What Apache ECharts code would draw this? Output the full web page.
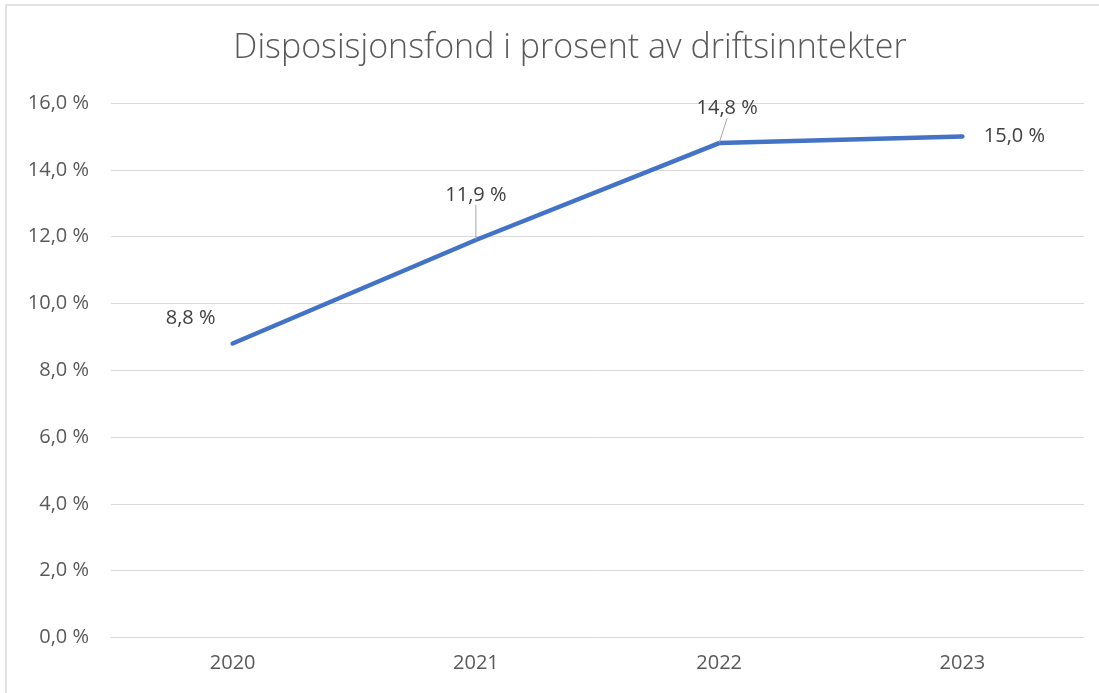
<!DOCTYPE html>
<html><head><meta charset="utf-8">
<script src="https://cdn.jsdelivr.net/npm/echarts@6/dist/echarts.min.js"></script>
<style>html,body{margin:0;padding:0;background:#fff}#c{width:1099px;height:693px}</style>
</head><body><div id="c"></div>
<script>
const categories = ['2020', '2021', '2022', '2023'];
const values = [8.8, 11.9, 14.8, 15.0];
const yTicks = [0, 2, 4, 6, 8, 10, 12, 14, 16];

const fmt = v => v.toFixed(1).replace('.', ',') + ' %';
// label displacement (style) per point
const labelShift = [
  { dx: -42, dy: -25, line: false },
  { dx: 0, dy: -45, line: true },
  { dx: 8, dy: -35, line: true },
  { dx: 52, dy: 0, line: false }
];
const data = values.map((v, i) => ({
  value: v,
  labelLine: { show: labelShift[i].line, lineStyle: { color: '#a6a6a6', width: 1 } }
}));

const chart = echarts.init(document.getElementById('c'));
chart.setOption({
  animation: false,
  graphic: [{ type: 'rect', shape: { x: 6, y: 5, width: 1200, height: 800 }, style: { fill: 'none', stroke: '#d9d9d9', lineWidth: 1.5 } }],
  title: {
    text: 'Disposisjonsfond i prosent av driftsinntekter',
    left: 565, textAlign: 'center', top: 26,
    textStyle: { fontFamily: 'Open Sans', fontWeight: 300, fontSize: 34, color: '#595959' }
  },
  grid: { left: 111, right: 15, top: 103, bottom: 693 - 637.5 },
  xAxis: {
    type: 'category', data: categories, boundaryGap: true,
    axisLine: { show: true, lineStyle: { color: '#d9d9d9' } },
    axisTick: { show: false },
    axisLabel: { color: '#595959', fontSize: 20, fontFamily: 'Open Sans', margin: 16 }
  },
  yAxis: {
    type: 'value', min: 0, max: 16, interval: 2,
    axisLine: { show: false }, axisTick: { show: false },
    splitLine: { lineStyle: { color: '#d9d9d9', width: 1 } },
    axisLabel: { color: '#595959', fontSize: 20, fontFamily: 'Open Sans', margin: 22, formatter: v => yTicks.includes(v) ? fmt(v) : '' }
  },
  series: [{
    type: 'line', data: data, symbol: 'circle', symbolSize: 1, showSymbol: true,
    itemStyle: { color: 'rgba(0,0,0,0)', borderWidth: 0 },
    lineStyle: { color: '#4472c4', width: 4.5, cap: 'round' },
    label: { show: true, position: 'inside', color: '#404040', opacity: 1, fontSize: 20, fontFamily: 'Open Sans', formatter: p => fmt(p.value) },
    labelLayout: function (p) {
      const s = labelShift[p.dataIndex];
      return { dx: s.dx, dy: s.dy };
    }
  }]
});
</script></body></html>
